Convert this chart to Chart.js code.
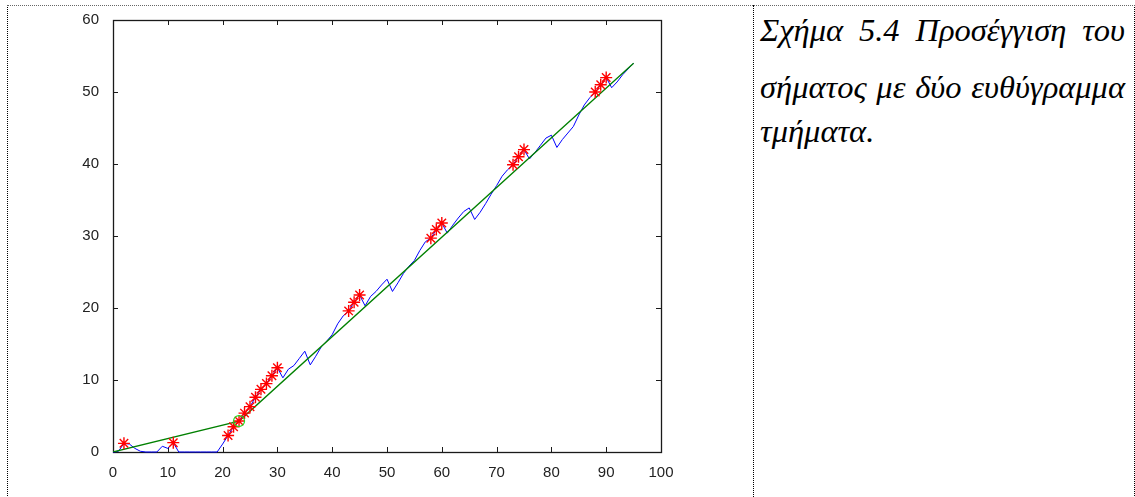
<!DOCTYPE html>
<html>
<head>
<meta charset="utf-8">
<script src="https://cdn.jsdelivr.net/npm/chart.js@4/dist/chart.umd.min.js"></script>
<style>
    body { margin: 0; background: #fff; width: 1135px; height: 497px; overflow: hidden; position: relative; }
    #cell { position: absolute; left: 7px; top: 5px; width: 1126px; height: 500px;
            border-top: 1px dotted #666; border-left: 1px dotted #000; border-right: 1px dotted #000; }
    #divisor { position: absolute; left: 753px; top: 5px; height: 500px; border-left: 1px dotted #000; }
    #chartBox { position: absolute; left: 0; top: 0; width: 753px; height: 497px; }
    .leyenda { position: absolute; left: 760px; width: 365px; font-family: "Liberation Serif", "Times New Roman", serif;
               font-style: italic; font-size: 32.5px; line-height: 40px; color: #000; white-space: nowrap; }
    .just { text-align: justify; text-align-last: justify; }
</style>
</head>
<body>
<div id="cell"></div>
<div id="divisor"></div>
<div id="chartBox"><canvas id="chartSenal" width="753" height="497"></canvas></div>
<div class="leyenda just" style="top:10px;">Σχήμα 5.4 Προσέγγιση του</div>
<div class="leyenda just" style="top:67px;">σήματος με δύο ευθύγραμμα</div>
<div class="leyenda" style="top:111px;">τμήματα.</div>

<script>
// Signal samples (x = 0..95)
const muestrasX = Array.from({ length: 96 }, (_, i) => i);
const senalY = [
    0, 0.1, 1.2, 1.1, 0.5, 0.1, 0, 0, 0, 0.8,
    0.5, 1.3, 0, 0, 0, 0, 0, 0, 0, 0,
    1.1, 2.3, 3.5, 4.3, 5.4, 6.3, 7.6, 8.7, 9.5, 10.6,
    11.7, 10.3, 11.5, 12.0, 13.0, 14.0, 12.1, 13.3, 14.6, 15.4,
    16.3, 17.8, 18.9, 19.6, 20.8, 21.8, 20.3, 21.6, 22.3, 23.2,
    24.0, 22.3, 23.5, 24.8, 25.8, 26.6, 28.0, 29.2, 29.7, 30.9,
    31.8, 30.4, 31.5, 32.5, 33.4, 33.9, 32.3, 33.3, 34.5, 35.8,
    37.0, 38.3, 39.2, 39.9, 41.0, 42.0, 40.7, 41.6, 42.6, 43.6,
    44.0, 42.3, 43.4, 44.3, 45.2, 46.8, 48.2, 49.2, 50.0, 51.0,
    52.0, 50.6, 51.4, 52.4, 53.2, 54.0
];

// Marked samples (red stars)
const marcasX = [2, 11, 21, 22, 23, 24, 25, 26, 27, 28, 29, 30, 43, 44, 45, 58, 59, 60, 73, 74, 75, 88, 89, 90];

// Two-segment approximation
const tramoX = [0, 23, 95];
const tramoY = [0, 4.3, 54.0];

// Break point
const quiebreX = [23];
const quiebreY = [4.3];

const ticksX = [0, 10, 20, 30, 40, 50, 60, 70, 80, 90, 100];
const ticksY = [0, 10, 20, 30, 40, 50, 60];

const puntos = (xs, ys) => xs.map((x, i) => ({ x: x, y: ys[i] }));

// Inward ticks on all four sides + box (MATLAB style), drawn under the data
const marcoEjes = {
    id: 'marcoEjes',
    beforeDatasetsDraw(chart) {
        const { ctx, chartArea: a, scales } = chart;
        const largo = 5;
        ctx.save();
        ctx.strokeStyle = '#1a1a1a';
        ctx.lineWidth = 1;
        ctx.beginPath();
        ticksX.forEach(v => {
            const px = Math.round(scales.x.getPixelForValue(v)) + 0.5;
            ctx.moveTo(px, a.bottom); ctx.lineTo(px, a.bottom - largo);
            ctx.moveTo(px, a.top); ctx.lineTo(px, a.top + largo);
        });
        ticksY.forEach(v => {
            const py = Math.round(scales.y.getPixelForValue(v)) + 0.5;
            ctx.moveTo(a.left, py); ctx.lineTo(a.left + largo, py);
            ctx.moveTo(a.right, py); ctx.lineTo(a.right - largo, py);
        });
        ctx.stroke();
        ctx.lineWidth = 1.3;
        ctx.strokeRect(Math.round(a.left) + 0.5, Math.round(a.top) + 0.5,
            Math.round(a.right - a.left), Math.round(a.bottom - a.top));
        ctx.restore();
    }
};

const fuenteTicks = { family: '"Liberation Sans", Arial, sans-serif', size: 15 };

new Chart(document.getElementById('chartSenal').getContext('2d'), {
    type: 'line',
    data: {
        datasets: [
            {
                label: 'Señal',
                data: puntos(muestrasX, senalY),
                borderColor: '#0000ff',
                borderWidth: 1,
                pointRadius: 0,
                tension: 0,
                clip: 2,
                order: 4
            },
            {
                label: 'Aproximación',
                data: puntos(tramoX, tramoY),
                borderColor: '#008000',
                borderWidth: 1.3,
                pointRadius: 0,
                order: 3
            },
            {
                label: 'Marcas',
                data: marcasX.map(x => ({ x: x, y: senalY[x] })),
                showLine: false,
                pointStyle: 'star',
                pointRadius: 6,
                borderColor: '#ff0000',
                backgroundColor: '#ff0000',
                pointBorderWidth: 1.4,
                order: 2
            },
            {
                label: 'Quiebre',
                data: puntos(quiebreX, quiebreY),
                showLine: false,
                pointStyle: 'circle',
                pointRadius: 5.5,
                borderColor: '#22dd22',
                backgroundColor: 'rgba(0,0,0,0)',
                pointBorderWidth: 1.2,
                order: 1
            }
        ]
    },
    options: {
        responsive: false,
        animation: false,
        devicePixelRatio: 1,
        layout: { padding: { left: 0, top: 20, right: 92, bottom: 0 } },
        plugins: { legend: { display: false }, tooltip: { enabled: false } },
        scales: {
            x: {
                type: 'linear',
                min: 0,
                max: 100,
                afterBuildTicks: (s) => { s.ticks = ticksX.map(v => ({ value: v })); },
                afterFit: (s) => { s.height = 45; },
                grid: { display: false },
                border: { display: false },
                ticks: { color: '#222', font: fuenteTicks, padding: 4, maxRotation: 0 }
            },
            y: {
                type: 'linear',
                min: 0,
                max: 60,
                afterBuildTicks: (s) => { s.ticks = ticksY.map(v => ({ value: v })); },
                afterFit: (s) => { s.width = 113; },
                grid: { display: false },
                border: { display: false },
                ticks: { color: '#222', font: fuenteTicks, padding: 6 }
            }
        }
    },
    plugins: [marcoEjes]
});
</script>
</body>
</html>
